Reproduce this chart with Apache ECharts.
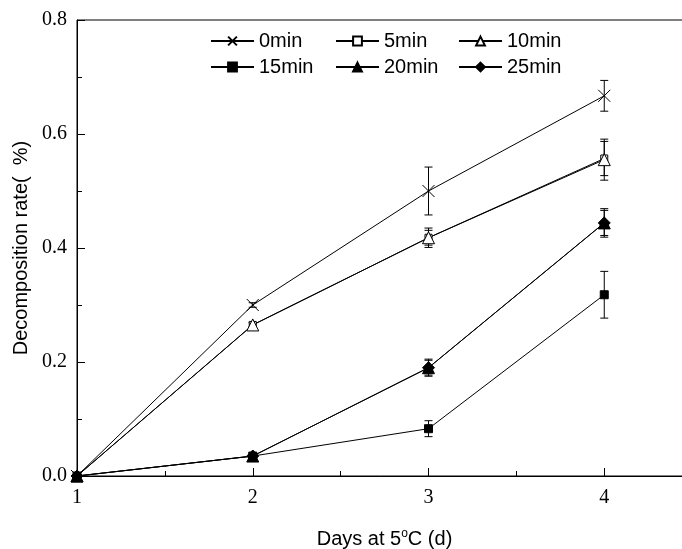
<!DOCTYPE html>
<html>
<head>
<meta charset="utf-8">
<script src="https://cdn.jsdelivr.net/npm/echarts@6/dist/echarts.min.js"></script>
<style>
  html, body { margin: 0; padding: 0; background: #fff; }
  #chart { width: 682px; height: 549px; }
</style>
</head>
<body>
<div id="chart"></div>
<script>
// ---------- data ----------
const days = [1, 2, 3, 4];
const xTicks = ['1', '2', '3', '4'];
const yTicks = ['0.0', '0.2', '0.4', '0.6', '0.8'];
const seriesNames = ['0min', '5min', '10min', '15min', '20min', '25min'];

const rate0 = [0, 0.300, 0.500, 0.667];
const rate5 = [0, 0.265, 0.418, 0.557];
const rate10 = [0, 0.265, 0.418, 0.555];
const rate15 = [0, 0.035, 0.083, 0.318];
const rate20 = [0, 0.035, 0.190, 0.444];
const rate25 = [0, 0.035, 0.190, 0.444];

const err0 = [0, 0.004, 0.042, 0.027];
const err5 = [0, 0.004, 0.013, 0.030];
const err10 = [0, 0.004, 0.017, 0.036];
const err15 = [0, 0.003, 0.014, 0.041];
const err20 = [0, 0.003, 0.015, 0.025];
const err25 = [0, 0.003, 0.013, 0.022];

// ---------- helpers ----------
const SANS = 'Liberation Sans';
const SERIF = 'Liberation Serif';
const CROSS = 'path://M0,0L10,10M10,0L0,10';

const styles = [
  { symbol: CROSS, size: 12, fill: 'none' },
  { symbol: 'rect', size: 7, fill: '#fff' },
  { symbol: 'triangle', size: 12, fill: '#fff' },
  { symbol: 'rect', size: 8, fill: '#000' },
  { symbol: 'triangle', size: 12, fill: '#000' },
  { symbol: 'diamond', size: 12, fill: '#000' }
];
const rates = [rate0, rate5, rate10, rate15, rate20, rate25];
const errs = [err0, err5, err10, err15, err20, err25];

function lineSeries(i) {
  const st = styles[i];
  return {
    name: seriesNames[i],
    type: 'line',
    data: days.map((d, k) => [d, rates[i][k]]),
    symbol: st.symbol,
    symbolSize: st.size,
    showAllSymbol: true,
    lineStyle: { color: '#000', width: 1 },
    itemStyle: { color: st.fill, borderColor: '#000', borderWidth: 1 },
    emphasis: { disabled: true },
    z: 3
  };
}

// error bars drawn as a custom series
function errorSeries(i) {
  const data = [];
  days.forEach((d, k) => {
    if (errs[i][k] > 0) data.push([d, rates[i][k] - errs[i][k], rates[i][k] + errs[i][k]]);
  });
  return {
    type: 'custom',
    name: seriesNames[i] + '-err',
    data: data,
    z: 2,
    renderItem: function (params, api) {
      const x = api.value(0);
      const lo = api.coord([x, api.value(1)]);
      const hi = api.coord([x, api.value(2)]);
      const w = 4;
      const st = { stroke: '#000', lineWidth: 1 };
      return {
        type: 'group',
        children: [
          { type: 'line', shape: { x1: hi[0], y1: hi[1], x2: lo[0], y2: lo[1] }, style: st },
          { type: 'line', shape: { x1: hi[0] - w, y1: hi[1], x2: hi[0] + w, y2: hi[1] }, style: st },
          { type: 'line', shape: { x1: lo[0] - w, y1: lo[1], x2: lo[0] + w, y2: lo[1] }, style: st }
        ]
      };
    }
  };
}

// legend laid out as a 3 x 2 grid, one legend per cell
const legendCols = [210, 335, 458];
const legendRows = [31, 57];
const legends = seriesNames.map((name, i) => ({
  left: legendCols[i % 3],
  top: legendRows[Math.floor(i / 3)],
  padding: 0,
  itemWidth: 43,
  itemHeight: 11,
  selectedMode: false,
  data: [name],
  textStyle: { fontFamily: SANS, fontSize: 20, color: '#000' }
}));

const axisText = { fontFamily: SERIF, fontSize: 20, color: '#000' };

const chart = echarts.init(document.getElementById('chart'));
chart.setOption({
  animation: false,
  backgroundColor: '#fff',
  grid: {
    left: 77, top: 20, bottom: 73, right: -98,
    outerBoundsMode: 'none',
    show: true, borderColor: '#000', borderWidth: 1
  },
  legend: legends,
  xAxis: [{
    type: 'value',
    min: 1,
    max: 5,
    interval: 1,
    axisLine: { lineStyle: { color: '#000', width: 1 } },
    axisTick: { inside: true, length: 8, lineStyle: { color: '#000' } },
    minorTick: { show: true, splitNumber: 2, length: 5, lineStyle: { color: '#000' } },
    splitLine: { show: false },
    axisLabel: Object.assign({
      margin: 12,
      formatter: v => (xTicks.indexOf(String(v)) >= 0 ? String(v) : '')
    }, axisText)
  }, {
    // carries only the axis title, centred on the original 1 - 4.5 range
    type: 'value',
    position: 'bottom',
    min: 1,
    max: 5,
    name: 'Days at 5{sup|o}C (d)',
    nameLocation: 'middle',
    nameGap: 52,
    nameTextStyle: {
      fontFamily: SANS, fontSize: 20, color: '#000',
      padding: [0, 88, 0, 0],
      rich: { sup: { fontFamily: SANS, fontSize: 12, verticalAlign: 'top', padding: [0, 0, 10, 0] } }
    },
    axisLine: { show: false },
    axisTick: { show: false },
    axisLabel: { show: false },
    splitLine: { show: false }
  }],
  yAxis: {
    type: 'value',
    min: 0,
    max: 0.8,
    interval: 0.2,
    name: 'Decomposition rate(  %)',
    nameLocation: 'middle',
    nameGap: 43,
    nameTextStyle: { fontFamily: SANS, fontSize: 20, color: '#000' },
    axisLine: { lineStyle: { color: '#000', width: 1 } },
    axisTick: { inside: true, length: 8, lineStyle: { color: '#000' } },
    minorTick: { show: true, splitNumber: 2, length: 5, lineStyle: { color: '#000' } },
    splitLine: { show: false },
    axisLabel: Object.assign({
      margin: 10,
      formatter: v => yTicks[Math.round(v / 0.2)]
    }, axisText)
  },
  series: [0, 1, 2, 3, 4, 5].map(errorSeries).concat([0, 1, 2, 3, 4, 5].map(lineSeries))
});
</script>
</body>
</html>
